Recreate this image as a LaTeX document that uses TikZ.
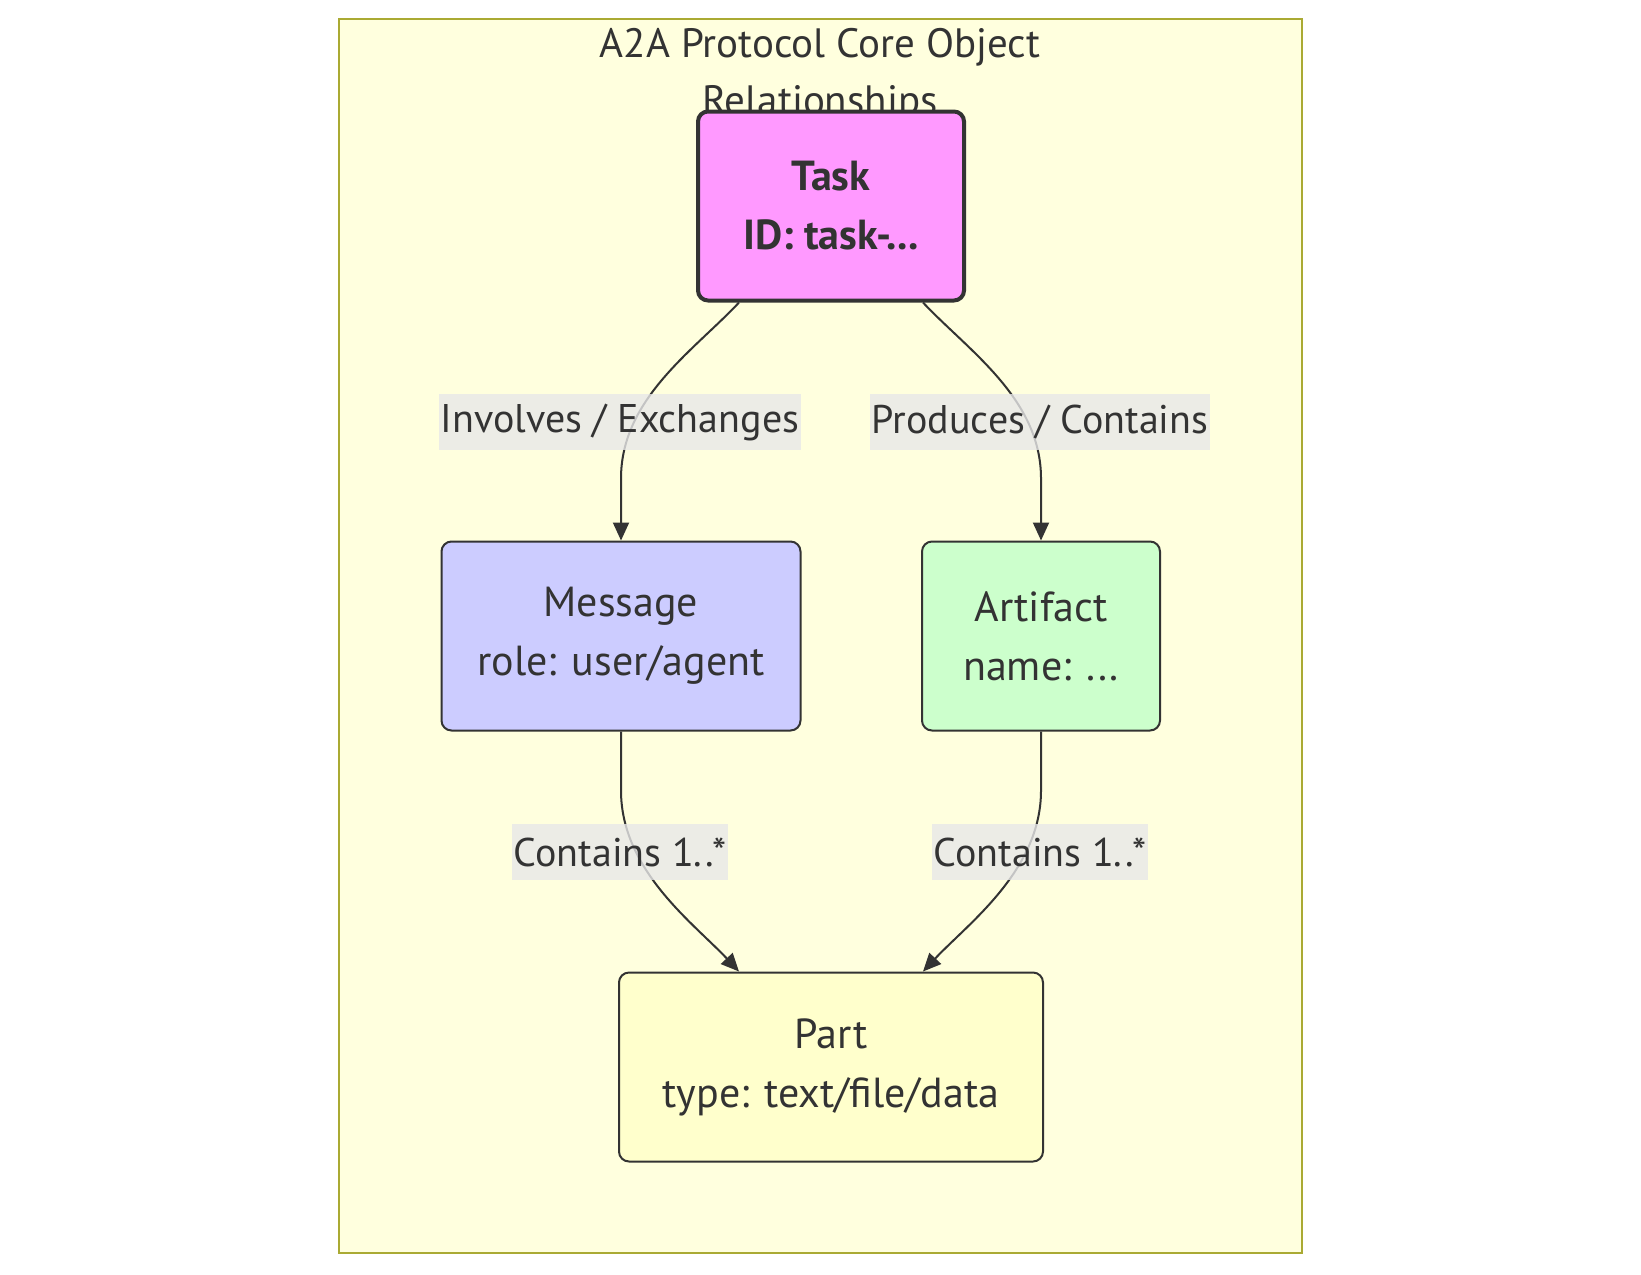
\documentclass[tikz,border=0pt]{standalone}
\usepackage{fontspec}
\setmainfont{PT Sans}
\usetikzlibrary{arrows.meta,calc}
\definecolor{clfill}{HTML}{FFFFDE}
\definecolor{clborder}{HTML}{AAAA33}
\definecolor{ink}{HTML}{333333}
\definecolor{taskfill}{HTML}{FF99FF}
\definecolor{msgfill}{HTML}{CCCCFF}
\definecolor{artfill}{HTML}{CCFFCC}
\definecolor{partfill}{HTML}{FFFFCC}
\definecolor{lblfill}{HTML}{E8E8E8}
\begin{document}
\begin{tikzpicture}[x=0.5pt,y=-0.5pt,
 box/.style={draw=ink, line width=1pt, rounded corners=5pt, inner sep=0pt, minimum height=94.5pt, align=center, text=ink, font=\fontsize{21}{29.5}\selectfont},
 lbl/.style={fill=lblfill, fill opacity=0.8, text opacity=1, text=ink, inner xsep=1pt, inner ysep=0pt, minimum height=28pt, font=\fontsize{20}{22}\selectfont},
 edge/.style={draw=ink, line width=1pt, -{Triangle[length=9pt,width=8pt]}}]
\path[use as bounding box, fill=white] (0,0) rectangle (1641,1274);
\draw[draw=clborder, fill=clfill, line width=1pt] (339,19) rectangle (1302,1253);
\node[text=ink, align=center, font=\fontsize{20.5}{28.5}\selectfont] (title) at (820,76) {A2A Protocol Core Object\\Relationships};

\node[box, fill=taskfill, line width=2pt, minimum width=133pt, font=\fontsize{21}{29.5}\selectfont\bfseries] (task) at (831,206) {Task\\ID: task-...};
\node[box, fill=msgfill, minimum width=179.5pt] (msg) at (621,636) {Message\\role: user/agent};
\node[box, fill=artfill, minimum width=119pt] (art) at (1041,636) {Artifact\\name: ...};
\node[box, fill=partfill, minimum width=212pt] (part) at (831,1067) {Part\\type: text/file/data};

\draw[edge] ($(task.south)+(-92,0)$) .. controls +(-45,48) and +(0,-80) .. ($(msg.north)+(0,-62)$) -- (msg.north);
\draw[edge] ($(task.south)+(92,0)$) .. controls +(45,48) and +(0,-80) .. ($(art.north)+(0,-62)$) -- (art.north);
\draw[edge] (msg.south) -- ($(msg.south)+(0,59)$) .. controls +(0,80) and +(-45,-48) .. ($(part.north)+(-92,0)$);
\draw[edge] (art.south) -- ($(art.south)+(0,59)$) .. controls +(0,80) and +(45,-48) .. ($(part.north)+(92,0)$);

\node[lbl] (l1) at (620,422) {Involves / Exchanges};
\node[lbl] (l2) at (1040,422) {Produces / Contains};
\node[lbl] (l3) at (620,852) {Contains 1..*};
\node[lbl] (l4) at (1040,852) {Contains 1..*};
\end{tikzpicture}
\end{document}
